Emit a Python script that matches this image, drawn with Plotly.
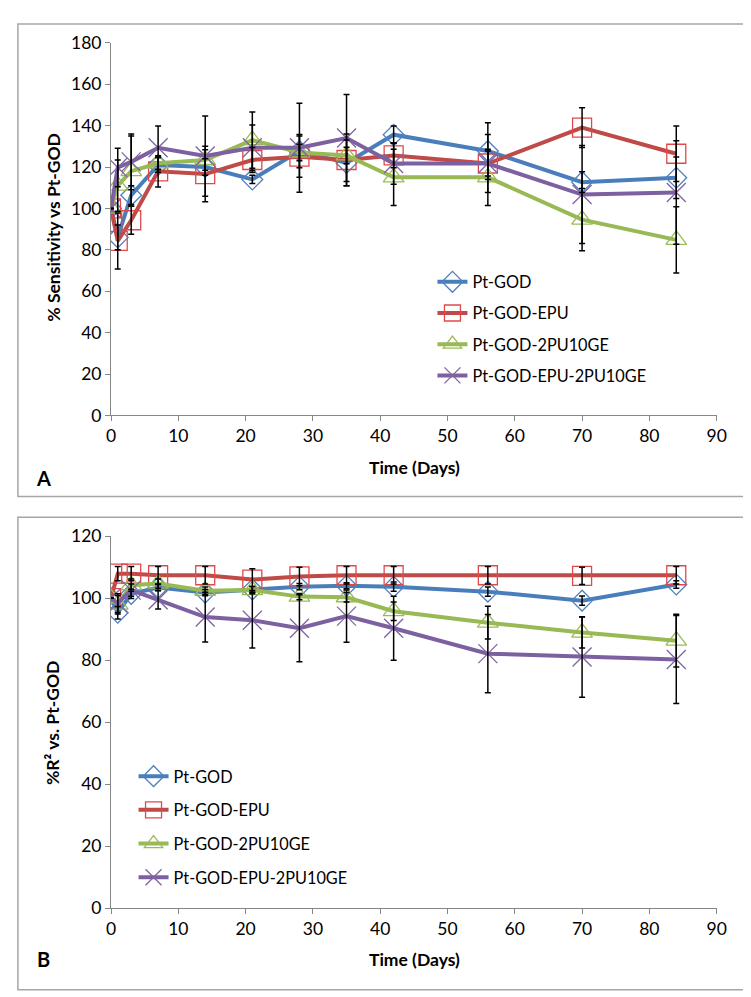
import plotly.graph_objects as go

W, H = 751, 997

days = [0, 1, 3, 7, 14, 21, 28, 35, 42, 56, 70, 84]
series_names = ["Pt-GOD", "Pt-GOD-EPU", "Pt-GOD-2PU10GE", "Pt-GOD-EPU-2PU10GE"]

# Panel A: % Sensitivity vs Pt-GOD
a_god = [100, 86, 106.4, 121, 120, 114, 127.7, 122, 135.6, 127.7, 112.7, 114.8]
a_epu = [100, 84.3, 94.3, 117.9, 116.6, 123.4, 125, 123.4, 125.6, 121.7, 139, 126.4]
a_2pu = [100, 111, 118, 121.8, 123.4, 133, 127, 125.6, 115, 115, 94.6, 84.8]
a_epu2 = [100, 119.8, 122.5, 129.3, 125.3, 129.3, 129.3, 134, 121.7, 121.7, 106.7, 107.7]
a_god_err = [0, 6, 4.5, 3.5, 4, 2, 8, 11, 4.2, 13.7, 5, 10]
a_epu_err = [0, 13.5, 6.8, 7.5, 13.4, 6, 10, 12.5, 6, 14, 9.6, 13.4]
a_2pu_err = [0, 12.4, 17, 3, 5, 13.6, 4, 4, 13.6, 13.6, 15, 16]
a_epu2_err = [0, 9.3, 13.5, 10.5, 19.4, 11, 21.5, 21, 10, 6, 23.7, 25]

# Panel B: %R2 vs. Pt-GOD
b_god = [100, 95.3, 101.4, 103.4, 101.8, 102.8, 103.7, 104, 103.7, 102.1, 99.2, 104.4]
b_epu = [100, 107.9, 107.9, 107.4, 107.4, 106, 107, 107.4, 107.4, 107.4, 107.2, 107.4]
b_2pu = [100, 97.9, 104.2, 104.7, 102.4, 102.6, 100.5, 100.3, 95.8, 92.1, 88.9, 86.3]
b_epu2 = [100, 98.4, 102.6, 99.5, 93.9, 92.9, 90.3, 94.2, 90.3, 82.1, 81, 80.2]
b_god_err = [0, 2, 1.5, 1, 1, 1, 1, 1, 1.5, 1.5, 1.5, 1.2]
b_epu_err = [0, 2.3, 2.3, 2.8, 2.8, 3.5, 3, 2.8, 2.8, 2.8, 2.8, 2.8]
b_2pu_err = [0, 3, 2, 1.5, 1.2, 1.2, 1, 1.5, 3, 5.3, 5, 8.5]
b_epu2_err = [0, 3, 2, 3, 8, 9, 10.8, 8.4, 10.3, 12.6, 13, 14.2]

colors = ["#4A7EBB", "#BE4B48", "#98B954", "#7D60A0"]
mcolors = ["#4F81BD", "#E0494A", "#9BBB59", "#8064A2"]
symbols = ["diamond-open", "square-open", "triangle-up-open", "x-thin-open"]
msizes = [16, 19, 18, 19]

FONT = "Lato, Carlito, 'Liberation Sans', sans-serif"

fig = go.Figure()

panels = [
    ("x", "y", "legend", "a", [a_god, a_epu, a_2pu, a_epu2], [a_god_err, a_epu_err, a_2pu_err, a_epu2_err]),
    ("x2", "y2", "legend2", "b", [b_god, b_epu, b_2pu, b_epu2], [b_god_err, b_epu_err, b_2pu_err, b_epu2_err]),
]

for xa, ya, lg, tag, vals, errs in panels:
    for i, name in enumerate(series_names):
        fig.add_trace(go.Scatter(
            x=days, y=vals[i], name=name, mode="lines+markers",
            xaxis=xa, yaxis=ya, legend=lg, legendgroup=f"{tag}{i}",
            line=dict(color=colors[i], width=4),
            marker=dict(symbol=symbols[i], size=msizes[i], color=mcolors[i],
                        line=dict(color=mcolors[i], width=1.3)),
        ))
    for i, name in enumerate(series_names):
        fig.add_trace(go.Scatter(
            x=days, y=vals[i], mode="markers", showlegend=False, hoverinfo="skip",
            xaxis=xa, yaxis=ya, legendgroup=f"{tag}{i}",
            marker=dict(size=1, opacity=0),
            error_y=dict(type="data", array=errs[i], visible=True,
                         color="black", thickness=1.5, width=3),
        ))

def px_x(p):
    return p / W

def px_y(p):
    return 1 - p / H

xdom = [px_x(100), px_x(718)]
axis_common = dict(
    showgrid=False, zeroline=False, showline=True, linecolor="#868686", linewidth=1,
    ticks="outside", ticklen=5, tickcolor="#868686",
    tickfont=dict(family=FONT, size=17.5, color="black"),
)

legend_font = dict(family=FONT, size=16.3, color="black")
fig.update_layout(
    width=W, height=H,
    margin=dict(l=0, r=0, t=0, b=0),
    paper_bgcolor="white", plot_bgcolor="white",
    xaxis=dict(domain=xdom, range=[0, 90], dtick=10, anchor="y", **axis_common),
    yaxis=dict(domain=[px_y(405), px_y(24.3)], range=[0, 180], dtick=20, anchor="x", **axis_common),
    xaxis2=dict(domain=xdom, range=[0, 90], dtick=10, anchor="y2", **axis_common),
    yaxis2=dict(domain=[px_y(908.3), px_y(528.3)], range=[0, 120], dtick=20, anchor="x2", **axis_common),
    legend=dict(x=px_x(428), y=px_y(251), xanchor="left", yanchor="top",
                font=legend_font, bgcolor="rgba(0,0,0,0)", tracegroupgap=7, itemwidth=30),
    legend2=dict(x=px_x(123), y=px_y(756), xanchor="left", yanchor="top",
                 font=legend_font, bgcolor="rgba(0,0,0,0)", tracegroupgap=9.5, itemwidth=30),
    showlegend=True,
)

fig.add_shape(type="rect", xref="paper", yref="paper",
              x0=px_x(5), x1=px_x(746.5), y0=px_y(487.7), y1=px_y(5),
              line=dict(color="#A6A6A6", width=1.5))
fig.add_shape(type="rect", xref="paper", yref="paper",
              x0=px_x(5), x1=px_x(746.5), y0=px_y(991.7), y1=px_y(509),
              line=dict(color="#A6A6A6", width=1.5))

ann_font = dict(family=FONT, size=17.5, color="black")
annotations = [
    dict(text="<b>% Sensitivity vs Pt-GOD</b>", x=px_x(41), y=px_y(213), textangle=-90),
    dict(text="<b>Time (Days)</b>", x=px_x(410), y=px_y(458)),
    dict(text="<b>%R² vs. Pt-GOD</b>", x=px_x(41), y=px_y(719), textangle=-90),
    dict(text="<b>Time (Days)</b>", x=px_x(410), y=px_y(961)),
]
for a in annotations:
    fig.add_annotation(xref="paper", yref="paper", showarrow=False,
                       xanchor="center", yanchor="middle", font=ann_font, **a)
for lbl, yy in [("A", 469), ("B", 960)]:
    fig.add_annotation(xref="paper", yref="paper", showarrow=False, text=f"<b>{lbl}</b>",
                       x=px_x(31), y=px_y(yy), xanchor="center", yanchor="middle",
                       font=dict(family=FONT, size=20, color="black"))

fig.write_html("out.html")
